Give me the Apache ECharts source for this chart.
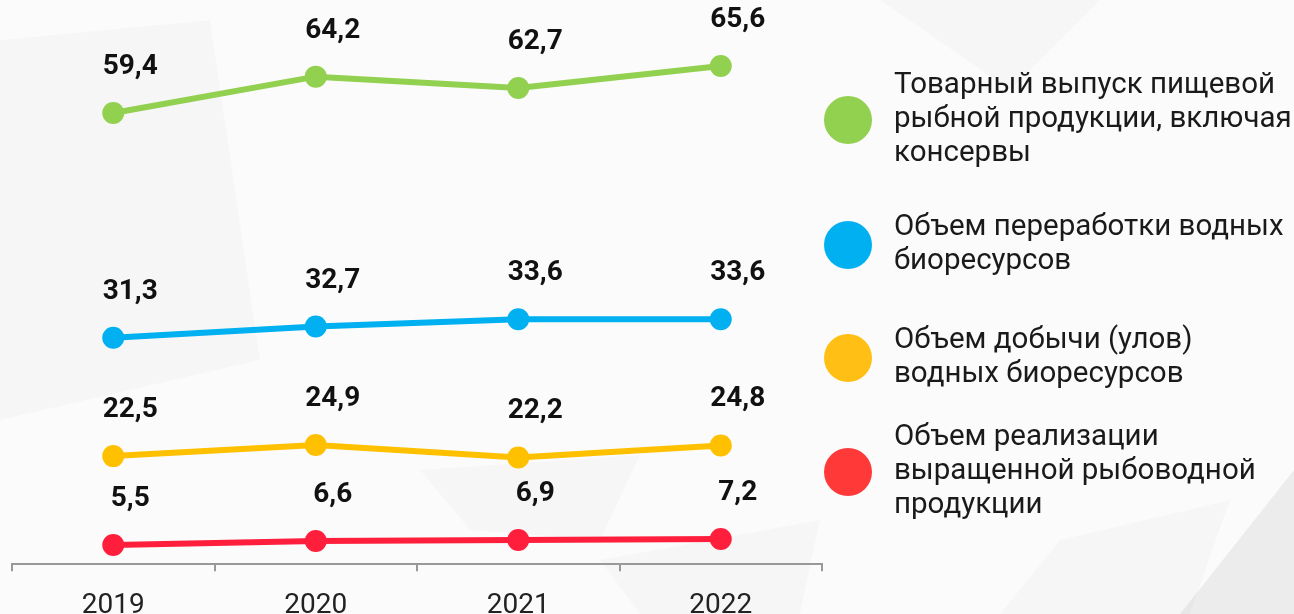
<!DOCTYPE html>
<html lang="ru">
<head>
  <meta charset="UTF-8">
  <title>Рыбная отрасль</title>
  <style>
    body{
      margin: 0;
    }
    .chart{
      width: 1294px;
      height: 614px;
      background: #fbfbfb;
    }
  </style>
</head>
<body>
<div class="chart"></div>
<script src="https://cdn.jsdelivr.net/npm/echarts@6/dist/echarts.min.js"></script>
<script>
  const years = ['2019', '2020', '2021', '2022'];
  const output = [59.4, 64.2, 62.7, 65.6];
  const processing = [31.3, 32.7, 33.6, 33.6];
  const catchVolume = [22.5, 24.9, 22.2, 24.8];
  const aquaculture = [5.5, 6.6, 6.9, 7.2];
  const names = [
    'Товарный выпуск пищевой\nрыбной продукции, включая\nконсервы',
    'Объем переработки водных\nбиоресурсов',
    'Объем добычи (улов)\nводных биоресурсов',
    'Объем реализации\nвыращенной рыбоводной\nпродукции'
  ];

  const colors = ['#92d050', '#00b0f0', '#ffc000', '#ff1f3d'];
  const iconColors = ['#92d050', '#00b0f0', '#ffbf14', '#ff3838'];
  // every line sits on its own hidden value axis
  const ranges = [[-0.49, 74.31], [2.83, 73.27], [-1.35, 120.59], [-0.71, 159.23]];
  const legendTops = [69, 211, 307, 421];

  const container = document.querySelector('.chart');
  const instance = echarts.init(container);

  const fmt = (p) => p.value.toFixed(1).replace('.', ',');

  // faint low-poly backdrop
  const bg = [
    [[0, 40], [210, 20], [260, 360], [0, 420]],
    [[420, 470], [640, 455], [600, 540], [470, 530]],
    [[1180, 614], [1294, 470], [1294, 614]],
    [[880, 0], [1100, 0], [1010, 90]],
    [[1060, 540], [1230, 500], [1190, 614], [1000, 614]],
    [[600, 560], [820, 520], [800, 614], [640, 614]]
  ];

  const option = {
    backgroundColor: '#fbfbfb',
    textStyle: { fontFamily: 'Roboto' },
    graphic: bg.map((pts, i) => ({
      type: 'polygon',
      z: -10,
      silent: true,
      shape: { points: pts },
      style: { fill: i === 2 ? 'rgba(0,0,0,0.06)' : 'rgba(0,0,0,0.018)' }
    })),
    grid: { left: 12, right: 472, top: 0, bottom: 47, containLabel: false, outerBoundsMode: 'none' },
    xAxis: {
      type: 'category',
      data: years,
      axisLine: { show: true, lineStyle: { color: '#999', width: 2 } },
      axisTick: { show: true, alignWithLabel: false, length: 8, lineStyle: { color: '#999', width: 2 } },
      axisLabel: { color: '#222', fontSize: 28, margin: 25 }
    },
    yAxis: ranges.map((r) => ({
      type: 'value', show: false, min: r[0], max: r[1]
    })),
    legend: names.map((n, i) => ({
      data: [{ name: n, itemStyle: { color: iconColors[i] } }],
      orient: 'vertical',
      left: 824,
      top: legendTops[i],
      icon: 'circle',
      itemWidth: 48,
      itemHeight: 48,
      itemGap: 0,
      padding: 0,
      selectedMode: false,
      textStyle: {
        fontSize: 29.5,
        lineHeight: 34,
        color: '#1a1a1a',
        padding: i === 2 ? [0, 0, 34, 17] : [0, 0, 0, 17]
      }
    })),
    series: [output, processing, catchVolume, aquaculture].map((vals, i) => ({
      type: 'line',
      name: names[i],
      yAxisIndex: i,
      data: vals,
      symbol: 'circle',
      symbolSize: 22,
      color: colors[i],
      lineStyle: { width: 6, color: colors[i] },
      itemStyle: { color: colors[i] },
      label: {
        show: true,
        position: 'top',
        distance: 21,
        offset: [17, 0],
        formatter: fmt,
        fontSize: 28,
        fontWeight: 'bold',
        color: '#111'
      },
      animation: false
    }))
  };
  instance.setOption(option);
</script>
</body>
</html>
